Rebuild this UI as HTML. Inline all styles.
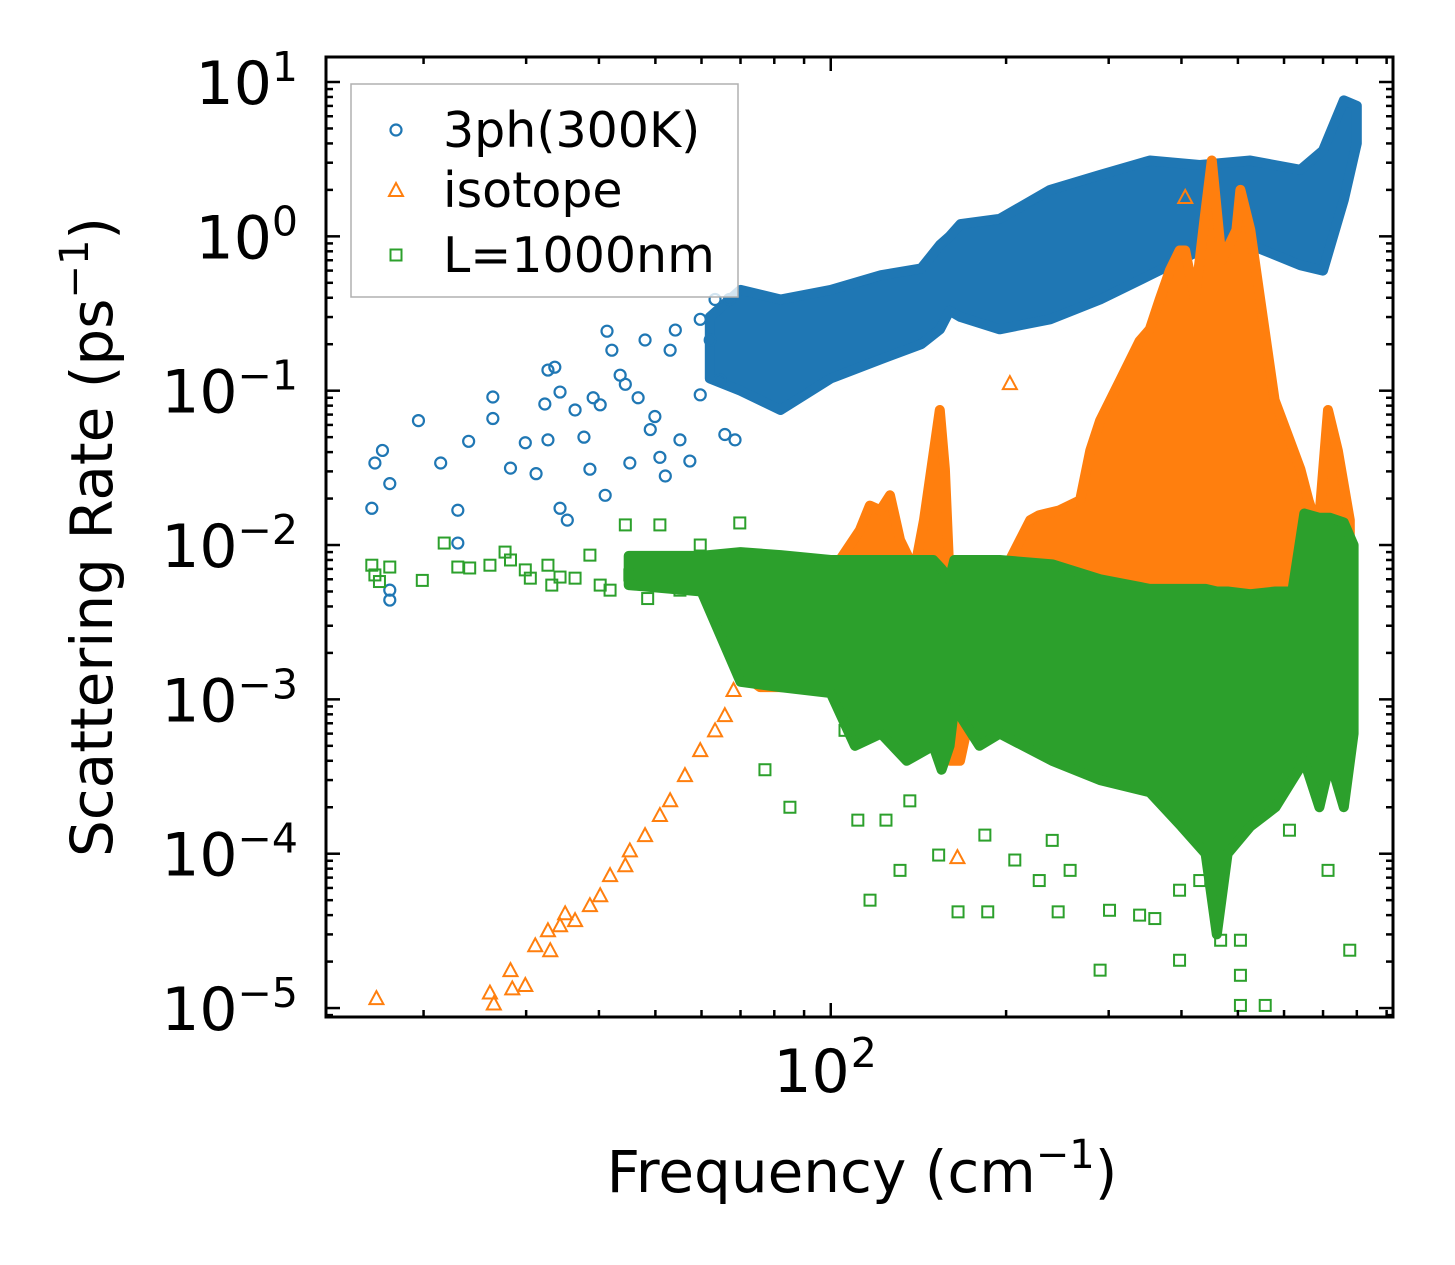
<!DOCTYPE html>
<html><head><meta charset="utf-8"><style>
html,body{margin:0;padding:0;background:#fff;}
svg{display:block;font-family:"DejaVu Sans","Liberation Sans",sans-serif;}
</style></head><body>
<svg id="chart" width="1455" height="1265" viewBox="0 0 1455 1265" xmlns="http://www.w3.org/2000/svg">
<defs><clipPath id="plotclip"><rect x="326" y="57" width="1067" height="960"/></clipPath></defs>
<rect width="1455" height="1265" fill="#fff"/>
<g id="marks" clip-path="url(#plotclip)"></g>
<g id="axes"></g>
<g id="legend">
  <rect x="351" y="84" width="387" height="213" fill="#fff" fill-opacity="0.8" stroke="#b0b0b0" stroke-width="1.5"/>
  <g>
    <circle cx="396" cy="130" r="5.5" fill="none" stroke="#1f77b4" stroke-width="2.2"/>
    <text x="443" y="147" font-size="49">3ph(300K)</text>
  </g>
  <g>
    <polygon points="396,183 403,196 389,196" fill="none" stroke="#ff7f0e" stroke-width="2"/>
    <text x="443" y="207" font-size="49">isotope</text>
  </g>
  <g>
    <rect x="390.5" y="249.5" width="11" height="11" fill="none" stroke="#2ca02c" stroke-width="2"/>
    <text x="443" y="272" font-size="49">L=1000nm</text>
  </g>
</g>
<text x="862" y="1192" font-size="58" text-anchor="middle">Frequency (cm<tspan font-size="40" dy="-24">−1</tspan><tspan dy="24">)</tspan></text>
<text transform="translate(112,537) rotate(-90)" font-size="58" text-anchor="middle">Scattering Rate (ps<tspan font-size="40" dy="-24">−1</tspan><tspan dy="24">)</tspan></text>
</svg>
<script>
// ---- data ----
const blueFreq = [16.3,16.5,17.0,17.5,17.5,17.5,19.6,21.4,22.9,22.9,23.9,26.3,26.3,28.2,29.9,31.2,32.3,32.7,32.7,33.6,34.3,34.3,35.3,36.4,37.7,38.6,39.1,40.2,41.0,41.3,42.1,43.5,44.4,45.2,46.7,48.0,49.0,49.9,50.9,52.0,53.0,54.1,55.1,57.3,59.7,62.1,64.6,65.8,68.5,59.7,63.3,67.0];
const blueRate = [0.0173,0.034,0.041,0.025,0.0051,0.0044,0.064,0.034,0.0168,0.0103,0.047,0.091,0.066,0.0315,0.046,0.029,0.082,0.048,0.136,0.142,0.098,0.0173,0.0145,0.075,0.050,0.031,0.090,0.081,0.021,0.243,0.183,0.126,0.110,0.034,0.090,0.213,0.056,0.068,0.037,0.028,0.183,0.247,0.048,0.035,0.094,0.213,0.117,0.052,0.048,0.29,0.39,0.39];
const blueBandFreq = [62,70,82,100,122,143,154,160,167,195,238,290,353,430,525,640,700,760,800];
const blueBandHi   = [0.30,0.45,0.39,0.45,0.56,0.62,0.88,1.0,1.2,1.3,2.0,2.5,3.1,2.9,3.1,2.7,3.6,7.6,7.0];
const blueBandLo   = [0.12,0.10,0.075,0.12,0.16,0.20,0.25,0.33,0.30,0.25,0.29,0.39,0.56,0.81,0.88,0.65,0.60,1.72,4.0];

const orangeFreq = [16.6,26.0,26.4,28.2,28.4,29.9,31.1,32.7,33.0,34.3,35.0,36.4,38.6,40.2,41.8,44.4,45.2,48.0,50.9,53.0,56.2,59.7,63.3,65.8,68.1,71.2,75.6,203,165,406];
const orangeRate = [0.0000116,0.0000126,0.0000107,0.0000176,0.0000134,0.0000141,0.0000255,0.0000319,0.0000237,0.0000344,0.0000411,0.0000371,0.0000464,0.0000538,0.0000726,0.0000842,0.000105,0.000132,0.000178,0.000222,0.000323,0.000469,0.00063,0.00079,0.00115,0.00155,0.0024,0.112,0.000095,1.8];
const orangeBandFreq = [69.8,75.6,88.6,103.7,112.2,116.7,121.7,126.4,131.5,139.3,144.6,150.4,153.9,157.0,160.3,166.7,173.4,195,203,220,228,247,268,279,290,314,339,353,367,382,397,406,422,439,451,469,497,505,525,546,578,613,640,661,687,714,742,778];
const orangeBandHi   = [0.0021,0.0033,0.0069,0.0080,0.0125,0.018,0.0168,0.021,0.0108,0.0069,0.0145,0.041,0.075,0.031,0.0051,0.0004,0.0024,0.0044,0.0080,0.0145,0.0156,0.0168,0.0195,0.041,0.064,0.117,0.21,0.25,0.39,0.60,0.81,0.81,0.39,1.37,3.1,0.70,1.10,2.0,1.10,0.39,0.087,0.048,0.031,0.0195,0.0125,0.075,0.041,0.0145];
const orangeBandLo   = [0.0015,0.0012,0.0012,0.0012,0.0012,0.0012,0.0012,0.0012,0.0012,0.0012,0.0012,0.0012,0.0010,0.0008,0.0004,0.0004,0.0008,0.0010,0.0010,0.0010,0.0010,0.0010,0.0010,0.0010,0.0010,0.0010,0.0010,0.0010,0.0010,0.0010,0.0010,0.0010,0.0010,0.0010,0.0010,0.0010,0.0010,0.0010,0.0010,0.0010,0.0010,0.0010,0.0010,0.0010,0.0010,0.0010,0.0010,0.0010];

const greenFreq = [16.3,16.5,16.8,17.5,19.9,21.7,22.9,24.0,26.0,27.6,28.2,29.9,30.5,32.7,33.2,34.3,36.4,38.6,40.2,41.8,44.4,45.2,48.5,50.9,55.1,59.7,63.3,69.8,71.2,75.6,77.1,85.1,105.8,111.3,124.4,116.8,131.5,136.7,153.2,183.9,207,228,240,245.7,290,301,339,360,397,430,467,505,505,557,778,714,613,165.4,186,257.6,397,505];
const greenRate = [0.0074,0.0064,0.0058,0.0072,0.0059,0.0103,0.0072,0.0071,0.0074,0.0090,0.0080,0.0069,0.0061,0.0074,0.0055,0.0062,0.0061,0.0086,0.0055,0.0051,0.0135,0.0064,0.0045,0.0135,0.0051,0.0100,0.0055,0.0139,0.0021,0.0019,0.00035,0.00020,0.00063,0.000165,0.000165,0.00005,0.000078,0.00022,0.000098,0.000132,0.000091,0.000067,0.000122,0.000042,0.0000176,0.000043,0.000040,0.000038,0.000058,0.000067,0.0000275,0.0000104,0.0000163,0.0000104,0.0000237,0.000078,0.000142,0.000042,0.000042,0.000078,0.0000204,0.0000275];
const greenBandFreq = [45,60,70,82,100,110,122,135,150,155,160,163,180,195,240,290,353,400,440,460,480,525,580,620,650,690,720,760,790];
const greenBandHi   = [0.0085,0.0085,0.0090,0.0086,0.0080,0.0080,0.0080,0.0080,0.0080,0.0070,0.0060,0.0080,0.0080,0.0080,0.0075,0.0060,0.0052,0.0052,0.0052,0.0050,0.0050,0.0048,0.0050,0.0050,0.0160,0.0150,0.0150,0.0140,0.0100];
const greenBandLo   = [0.0055,0.0050,0.0013,0.0012,0.0011,0.0005,0.0006,0.0004,0.0005,0.00035,0.0005,0.0009,0.0005,0.0006,0.0004,0.0003,0.00025,0.00015,0.0001,0.00003,0.0001,0.00015,0.0002,0.0003,0.0004,0.0002,0.0004,0.0002,0.0006];

const yMajorExp = [1,0,-1,-2,-3,-4,-5];
const xMajorVals = [100];
const xMajorExp = ["2"];

// ---- scales ----
const X0=326,X1=1393,Y0=57,Y1=1017;
const LX0=Math.log10(13.6),LX1=Math.log10(923),LY0=-5.058,LY1=1.162;
function sx(f){return X0+(Math.log10(f)-LX0)/(LX1-LX0)*(X1-X0);}
function sy(r){return Y1-(Math.log10(r)-LY0)/(LY1-LY0)*(Y1-Y0);}

const NS="http://www.w3.org/2000/svg";
const marks=document.getElementById('marks');
const axes=document.getElementById('axes');
function mk(tag,attrs,parent){const e=document.createElementNS(NS,tag);for(const k in attrs)e.setAttribute(k,attrs[k]);parent.appendChild(e);return e;}

function band(freq,hi,lo,color,name){
  let pts=[];
  for(let i=0;i<freq.length;i++)pts.push(sx(freq[i]).toFixed(1)+','+sy(hi[i]).toFixed(1));
  for(let i=freq.length-1;i>=0;i--)pts.push(sx(freq[i]).toFixed(1)+','+sy(lo[i]).toFixed(1));
  const p=mk('polygon',{points:pts.join(' '),fill:color,stroke:color,'stroke-width':10,'stroke-linejoin':'round'},marks);
  
  
}
function circles(fs,rs,color){
  for(let i=0;i<fs.length;i++){
    const c=mk('circle',{cx:sx(fs[i]),cy:sy(rs[i]),r:5.5,fill:'none',stroke:color,'stroke-width':2.2},marks);
    
    
  }
}
function tris(fs,rs,color){
  for(let i=0;i<fs.length;i++){
    const x=sx(fs[i]),y=sy(rs[i]);
    const t=mk('polygon',{points:`${x},${y-7} ${x+7},${y+6} ${x-7},${y+6}`,fill:'none',stroke:color,'stroke-width':2},marks);
    
    
  }
}
function squares(fs,rs,color){
  for(let i=0;i<fs.length;i++){
    const x=sx(fs[i]),y=sy(rs[i]);
    const s=mk('rect',{x:x-5.5,y:y-5.5,width:11,height:11,fill:'none',stroke:color,'stroke-width':2},marks);
    
    
  }
}
band(blueBandFreq,blueBandHi,blueBandLo,'#1f77b4','band-3ph');
circles(blueFreq,blueRate,'#1f77b4');
band(orangeBandFreq,orangeBandHi,orangeBandLo,'#ff7f0e','band-isotope');
tris(orangeFreq,orangeRate,'#ff7f0e');
band(greenBandFreq,greenBandHi,greenBandLo,'#2ca02c','band-boundary');
squares(greenFreq,greenRate,'#2ca02c');

// ---- axes ----
const frame=mk('rect',{x:X0,y:Y0,width:X1-X0,height:Y1-Y0,fill:'none',stroke:'#000','stroke-width':3},axes);


function tick(x1,y1,x2,y2,name){const l=mk('line',{x1,y1,x2,y2,stroke:'#000','stroke-width':2.5},axes);
  
  }
for(let d=-6;d<=1;d++){
  for(let m=1;m<=9;m++){
    const v=m*Math.pow(10,d);const lv=Math.log10(v);
    if(lv<LY0||lv>LY1)continue;
    const y=sy(v);const L=m===1?14:7;
    tick(X0,y,X0+L,y,'y-tick');
    tick(X1,y,X1-L,y,'y-tick-right');
  }
}
yMajorExp.forEach(e=>{
  const y=sy(Math.pow(10,e));
  const t=mk('text',{x:298,y:y+22,'font-size':60,'text-anchor':'end'},axes);
  
  
  const a=mk('tspan',{},t); a.textContent='10';
  const s=mk('tspan',{dy:-23,'font-size':41},t);
  s.textContent=(e<0?'−':'')+Math.abs(e);
});
for(let d=1;d<=2;d++){
  for(let m=1;m<=9;m++){
    const v=m*Math.pow(10,d);const lv=Math.log10(v);
    if(lv<LX0||lv>LX1)continue;
    const x=sx(v);const L=m===1?14:7;
    tick(x,Y1,x,Y1-L,'x-tick');
    tick(x,Y0,x,Y0+L,'x-tick-top');
  }
}
xMajorVals.forEach((v,i)=>{
  const x=sx(v);
  const t=mk('text',{x:x+19,y:1092,'font-size':60,'text-anchor':'end'},axes);
  t.textContent='10';
  
  
  const s=mk('text',{x:x+20,y:1067,'font-size':41},axes);
  s.textContent=xMajorExp[i];
  
  
});
</script>
</body></html>
